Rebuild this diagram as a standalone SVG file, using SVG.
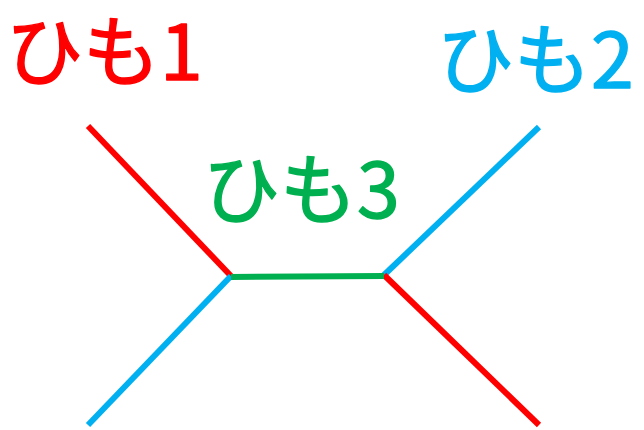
<svg xmlns="http://www.w3.org/2000/svg" width="644" height="430" viewBox="0 0 644 430">
<style>
.t{font-family:"Noto Sans CJK JP","Noto Sans",sans-serif;font-size:77px;font-weight:400;stroke-width:1.4;stroke-linejoin:round}
.l{stroke-width:6;stroke-linecap:butt;fill:none}
.r{stroke:#FF0000}.b{stroke:#00B0F0}.g{stroke:#00B050}
</style>
<rect width="644" height="430" fill="#fff"/>
<g id="connectors">
<line class="l r" x1="88" y1="126" x2="231" y2="276"/>
<line class="l b" x1="231" y1="276" x2="88" y2="425"/>
<line class="l b" x1="384" y1="275" x2="539" y2="127"/>
<line class="l r" x1="384" y1="275" x2="539" y2="425"/>
<line class="l g" x1="231" y1="277" x2="384" y2="276"/>
</g>
<g id="label1"><text class="t" x="6" y="80" fill="#FF0000" stroke="#FF0000">ひも1</text></g>
<g id="label2"><text class="t" x="437" y="88" fill="#00B0F0" stroke="#00B0F0">ひも2</text></g>
<g id="label3"><text class="t" x="203" y="218" fill="#00B050" stroke="#00B050">ひも3</text></g>
</svg>
